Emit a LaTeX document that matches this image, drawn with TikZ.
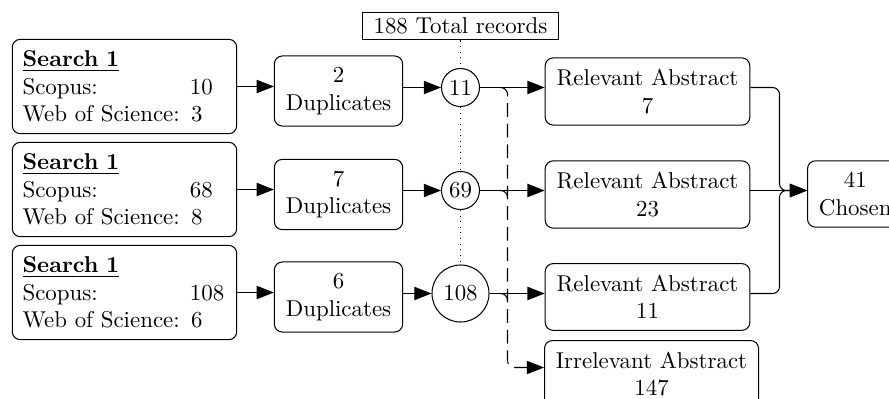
\documentclass[tikz,border=0pt]{standalone}
\usetikzlibrary{arrows.meta}
\newlength\wosw
\begin{document}
\settowidth\wosw{Web of Science: }%
\begin{tikzpicture}[x=0.4367pt,y=-0.4367pt,
  line width=0.45pt,
  box/.style={draw, rounded corners=3.5pt, inner sep=5pt, align=center},
  search/.style={box, text width=89pt, inner xsep=4.5pt, align=left},
  num/.style={draw, circle, inner sep=0pt, minimum size=16.6pt},
  bignum/.style={num, minimum size=24.9pt},
  tot/.style={draw, minimum width=85.2pt, minimum height=12.2pt, inner sep=0pt},
  arr/.style={-{Triangle[length=7.5pt,width=5.8pt]}},
  dsh/.style={arr, dash pattern=on 6pt off 3pt, rounded corners=3pt},
  bump/.style={rounded corners=3pt},
  dot/.style={dotted}]
\useasboundingbox (0,0) rectangle (889,398);
\fill[white] (0,0) rectangle (889,398);
\clip (0,0) rectangle (889,398);

% search boxes
\node[search] (S1) at (124.5,86.5) {\underline{\textbf{Search 1}}\\ \makebox[\wosw][l]{Scopus:}10\\ Web of Science: 3};
\node[search] (S2) at (124.5,189.5) {\underline{\textbf{Search 1}}\\ \makebox[\wosw][l]{Scopus:}68\\ Web of Science: 8};
\node[search] (S3) at (124.5,292.5) {\underline{\textbf{Search 1}}\\ \makebox[\wosw][l]{Scopus:}108\\ Web of Science: 6};

% duplicates
\node[box] (D1) at (338.5,91) {2\\Duplicates};
\node[box] (D2) at (338.5,194.5) {7\\Duplicates};
\node[box] (D3) at (338.5,297) {6\\Duplicates};

% totals
\node[tot] (T) at (460.5,26) {188 Total records};
\node[num] (C1) at (460.5,87.5) {11};
\node[num] (C2) at (460.5,190.5) {69};
\node[bignum] (C3) at (460.5,293.5) {108};

% abstracts
\node[box] (R1) at (647.5,91.5) {Relevant Abstract\\7};
\node[box] (R2) at (647.5,194.5) {Relevant Abstract\\23};
\node[box] (R3) at (647.5,297) {Relevant Abstract\\11};
\node[box, anchor=north west] (I) at (544,340) {Irrelevant Abstract\\147};

% chosen
\node[box, anchor=west] (Ch) at (807,194) {41\\Chosen};

\coordinate (jd) at (507.5,367.5);
\coordinate (b2) at (507.5,197.5);
\coordinate (b3) at (507.5,300.5);
\coordinate (m) at (779.5,190.5);

% dotted spine
\draw[dot] (T.south) -- (C1.north);
\draw[dot] (C1.south) -- (C2.north);
\draw[dot] (C2.south) -- (C3.north);

% search -> duplicates
\draw[arr] (S1.east) -- (S1.east -| D1.west);
\draw[arr] (S2.east) -- (S2.east -| D2.west);
\draw[arr] (S3.east) -- (S3.east -| D3.west);

% duplicates -> circles
\draw[arr] (C1 -| D1.east) -- (C1.west);
\draw[arr] (C2 -| D2.east) -- (C2.west);
\draw[arr] (C3 -| D3.east) -- (C3.west);

% circles -> relevant
\draw[arr] (C1.east) -- (C1 -| R1.west);
\draw[arr] (C2.east) -- (C2 -| R2.west);
\draw[arr] (C3.east) -- (C3 -| R3.west);

% circles -> irrelevant (dashed)
\draw[dsh] (C1 -| jd) ++(-8,0) -| (jd) -- (jd -| I.west);
\draw[bump] (C2 -| jd) ++(-8,0) -| (b2);
\draw[bump] (C3 -| jd) ++(-8,0) -| (b3);

% relevant -> chosen
\draw[arr, rounded corners=3pt] (C1 -| R1.east) -| (m) -- (m -| Ch.west);
\draw[arr] (C2 -| R2.east) -- (m -| Ch.west);
\draw[arr, rounded corners=3pt] (C3 -| R3.east) -| (m) -- (m -| Ch.west);
\end{tikzpicture}
\end{document}
